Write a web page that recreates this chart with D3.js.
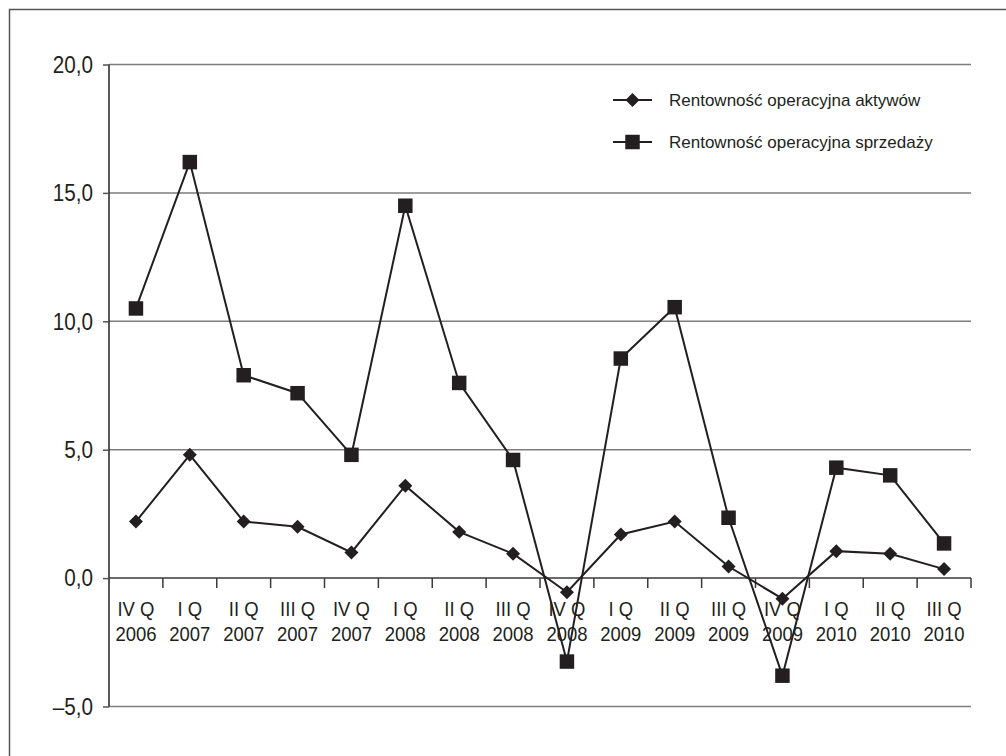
<!DOCTYPE html>
<html>
<head>
<meta charset="utf-8">
<script src="https://cdn.jsdelivr.net/npm/d3@7"></script>
<style>
  html, body { margin: 0; padding: 0; background: #ffffff; }
  svg { display: block; }
  text { font-family: "Liberation Sans", Arial, sans-serif; fill: #231f20; }
</style>
</head>
<body>
<svg id="chart" width="1006" height="756"></svg>
<script>
// Quarter labels (two lines each)
const quarters = ["IV Q", "I Q", "II Q", "III Q", "IV Q", "I Q", "II Q", "III Q",
                  "IV Q", "I Q", "II Q", "III Q", "IV Q", "I Q", "II Q", "III Q"];
const years = ["2006", "2007", "2007", "2007", "2007", "2008", "2008", "2008",
               "2008", "2009", "2009", "2009", "2009", "2010", "2010", "2010"];

// Operating return on assets (%)
const assetsValues = [2.2, 4.8, 2.2, 2.0, 1.0, 3.6, 1.8, 0.95,
                      -0.55, 1.7, 2.2, 0.45, -0.8, 1.05, 0.95, 0.35];
// Operating return on sales (%)
const salesValues = [10.5, 16.2, 7.9, 7.2, 4.8, 14.5, 7.6, 4.6,
                     -3.25, 8.55, 10.55, 2.35, -3.8, 4.3, 4.0, 1.35];

const yTicks = [-5, 0, 5, 10, 15, 20];
const seriesNames = ["Rentowność operacyjna aktywów", "Rentowność operacyjna sprzedaży"];

const svg = d3.select("#chart");
const ink = "#231f20";

// Outer frame
svg.append("rect")
  .attr("x", 9.5).attr("y", 9.5)
  .attr("width", 1020).attr("height", 770)
  .attr("fill", "none").attr("stroke", "#555").attr("stroke-width", 1.5);

const plotLeft = 109, plotRight = 971, plotTop = 64.5, plotBottom = 706.5;
const idx = d3.range(quarters.length);

const x = d3.scaleBand().domain(idx).range([plotLeft, plotRight]).padding(0);
const cx = i => x(i) + x.bandwidth() / 2;
const y = d3.scaleLinear().domain([-5, 20]).range([plotBottom, plotTop]);

// Horizontal gridlines
svg.append("g").selectAll("line")
  .data(yTicks.filter(v => v !== 0))
  .join("line")
  .attr("x1", plotLeft).attr("x2", plotRight)
  .attr("y1", d => y(d)).attr("y2", d => y(d))
  .attr("stroke", "#7d7d7d").attr("stroke-width", 1.5);

// Y axis with outward ticks
const yAxis = svg.append("g")
  .attr("transform", `translate(${plotLeft},0)`)
  .call(d3.axisLeft(y).tickValues(yTicks).tickSize(6).tickPadding(0)
    .tickFormat(d => d3.format(".1f")(d).replace(".", ",").replace("-", "\u2013").replace("\u2212", "\u2013")));
yAxis.select(".domain").attr("stroke", ink).attr("stroke-width", 1.5)
  .attr("d", `M0,${plotBottom}V${plotTop}`);
yAxis.selectAll(".tick line").attr("stroke", "#555").attr("stroke-width", 1.5);
yAxis.selectAll(".tick text")
  .attr("x", 0).attr("dy", null)
  .attr("dominant-baseline", "central")
  .attr("text-anchor", "end")
  .attr("transform", "translate(-16,0) scale(0.9,1)")
  .style("font-size", "23px")
  .style("font-family", "\"Liberation Sans\", Arial, sans-serif")
  .attr("fill", ink);

// Zero line with category tick marks below it
const xAxis = svg.append("g")
  .attr("transform", `translate(0,${y(0)})`)
  .call(d3.axisBottom(x).tickValues([]).tickSize(0));
xAxis.select(".domain").attr("stroke", "#3a3a3a").attr("stroke-width", 1.5)
  .attr("d", `M${plotLeft},0H${plotRight}`);
xAxis.selectAll(".cat-tick")
  .data(idx.slice(1).map(i => x(i)).concat([plotRight]))
  .join("line")
  .attr("class", "cat-tick")
  .attr("x1", d => d).attr("x2", d => d)
  .attr("y1", 0).attr("y2", 10)
  .attr("stroke", "#3a3a3a").attr("stroke-width", 1.5);

// Category labels
const labels = svg.append("g").selectAll("g")
  .data(idx)
  .join("g")
  .attr("transform", i => `translate(${cx(i)},0) scale(0.88,1)`);
labels.append("text")
  .attr("y", 616).attr("text-anchor", "middle")
  .style("font-size", "21px")
  .text(i => quarters[i]);
labels.append("text")
  .attr("y", 641).attr("text-anchor", "middle")
  .style("font-size", "21px")
  .text(i => years[i]);

// Series lines
const line = d3.line().x((d, i) => cx(i)).y(d => y(d));

svg.append("path").datum(salesValues)
  .attr("d", line).attr("fill", "none")
  .attr("stroke", ink).attr("stroke-width", 2);
svg.append("path").datum(assetsValues)
  .attr("d", line).attr("fill", "none")
  .attr("stroke", ink).attr("stroke-width", 2);

const diamond = d3.symbol().type(d3.symbolSquare).size(98);
const square = d3.symbol().type(d3.symbolSquare).size(210);

svg.append("g").selectAll("path")
  .data(salesValues)
  .join("path")
  .attr("d", square)
  .attr("transform", (d, i) => `translate(${cx(i)},${y(d)})`)
  .attr("fill", ink);

svg.append("g").selectAll("path")
  .data(assetsValues)
  .join("path")
  .attr("d", diamond)
  .attr("transform", (d, i) => `translate(${cx(i)},${y(d)}) rotate(45)`)
  .attr("fill", ink);

// Legend
const legend = svg.append("g");
const legendRows = [
  { name: seriesNames[0], shape: diamond, rot: 45, y: 100 },
  { name: seriesNames[1], shape: square, rot: 0, y: 142 }
];
const lg = legend.selectAll("g").data(legendRows).join("g")
  .attr("transform", d => `translate(0,${d.y})`);
lg.append("line")
  .attr("x1", 613).attr("x2", 652).attr("y1", 0).attr("y2", 0)
  .attr("stroke", ink).attr("stroke-width", 2);
lg.append("path")
  .attr("d", d => d.shape())
  .attr("transform", d => `translate(632.5,0) rotate(${d.rot})`)
  .attr("fill", ink);
lg.append("text")
  .attr("x", 669).attr("y", 6)
  .style("font-size", "17px")
  .text(d => d.name);
</script>
</body>
</html>
